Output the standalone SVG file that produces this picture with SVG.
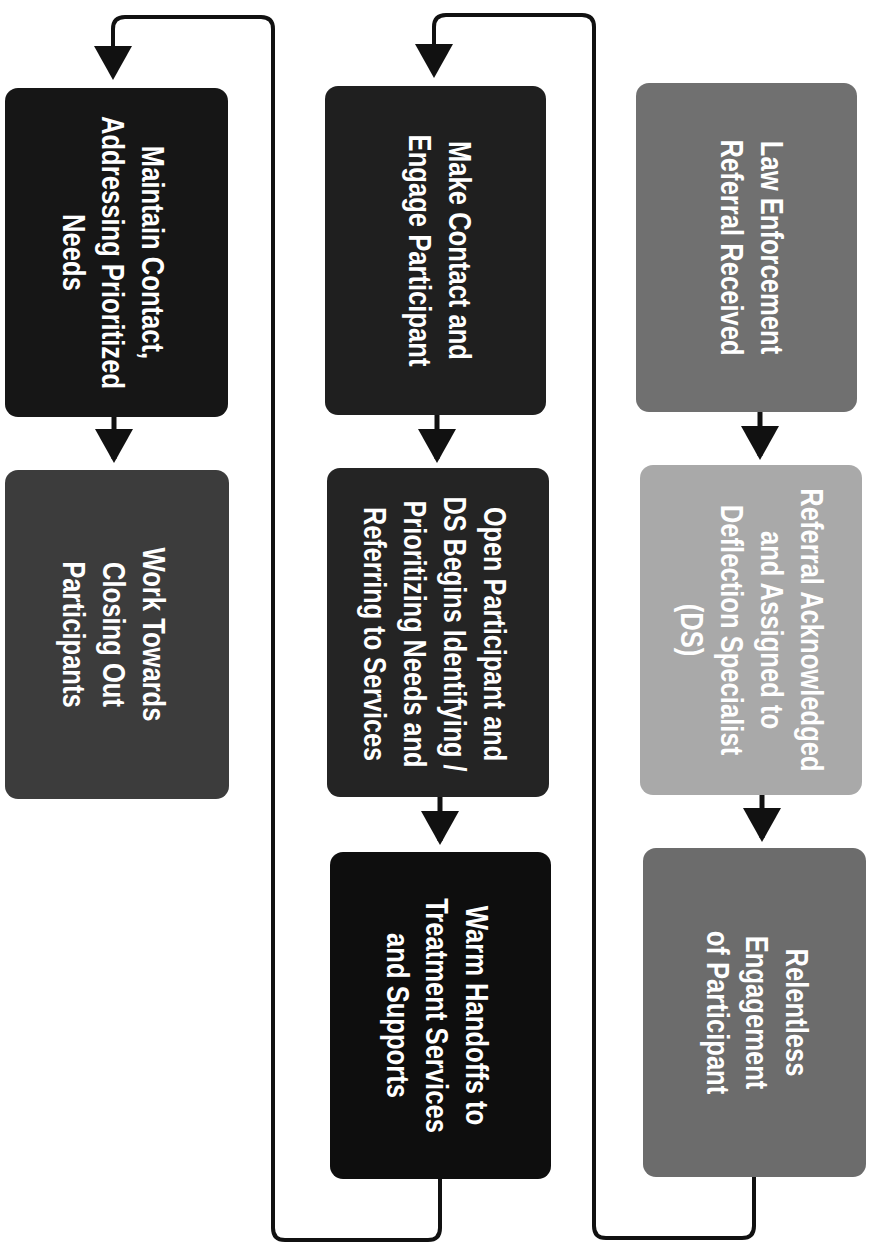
<svg xmlns="http://www.w3.org/2000/svg" width="874" height="1247" viewBox="0 0 874 1247">
<style>
.box{stroke:none}
.t{font-family:"Liberation Sans",Arial,sans-serif;font-weight:bold;font-size:32px;fill:#fff;text-anchor:middle}
.c{fill:none;stroke:#111;stroke-width:4;marker-end:url(#ah)}
.s{fill:none;stroke:#111;stroke-width:5;marker-end:url(#ah)}
</style>
<defs>
<marker id="ah" viewBox="0 0 34 38" refX="30" refY="19" markerWidth="34" markerHeight="38" markerUnits="userSpaceOnUse" orient="auto"><path d="M0,0 L34,19 L0,38 z" fill="#111"/></marker>
</defs>
<rect width="874" height="1247" fill="#fff"/>
<g id="connectors">
<path class="s" d="M114,417 L114,459"/>
<path class="s" d="M437,415 L437,459"/>
<path class="s" d="M440,797 L440,841"/>
<path class="s" d="M760,412 L760,456"/>
<path class="s" d="M762,795 L762,838"/>
<path class="c" d="M440,1179 L440,1228 Q440,1240 428,1240 L285,1240 Q273,1240 273,1228 L273,29 Q273,17 261,17 L125,17 Q113,17 113,29 L113,76"/>
<path class="c" d="M754,1177 L754,1226 Q754,1238 742,1238 L606,1238 Q594,1238 594,1226 L594,27 Q594,15 582,15 L446,15 Q434,15 434,27 L434,74"/>
</g>
<g id="maintain">
<rect class="box" x="5" y="88" width="223" height="329" rx="13" fill="#161616"/>
<g transform="translate(116.5,252.5) rotate(90) scale(0.8,1)"><text class="t"><tspan x="0" y="-26">Maintain Contact,</tspan><tspan x="0" y="14">Addressing Prioritized</tspan><tspan x="0" y="54">Needs</tspan></text></g>
</g>
<g id="work">
<rect class="box" x="5" y="470" width="224" height="329" rx="13" fill="#3c3c3c"/>
<g transform="translate(117,634.5) rotate(90) scale(0.8,1)"><text class="t"><tspan x="0" y="-26">Work Towards</tspan><tspan x="0" y="14">Closing Out</tspan><tspan x="0" y="54">Participants</tspan></text></g>
</g>
<g id="make">
<rect class="box" x="325" y="86" width="221" height="329" rx="13" fill="#1f1f1f"/>
<g transform="translate(435.5,250.5) rotate(90) scale(0.8,1)"><text class="t"><tspan x="0" y="-14">Make Contact and</tspan><tspan x="0" y="26">Engage Participant</tspan></text></g>
</g>
<g id="open">
<rect class="box" x="327" y="468" width="222" height="329" rx="13" fill="#242424"/>
<g transform="translate(438,634) rotate(90) scale(0.79,1)"><text class="t"><tspan x="0" y="-46">Open Participant and</tspan><tspan x="0" y="-6">DS Begins Identifying /</tspan><tspan x="0" y="34">Prioritizing Needs and</tspan><tspan x="0" y="74">Referring to Services</tspan></text></g>
</g>
<g id="warm">
<rect class="box" x="330" y="852" width="221" height="327" rx="13" fill="#0e0e0e"/>
<g transform="translate(440.5,1015.5) rotate(90) scale(0.8,1)"><text class="t"><tspan x="0" y="-26">Warm Handoffs to</tspan><tspan x="0" y="14">Treatment Services</tspan><tspan x="0" y="54">and Supports</tspan></text></g>
</g>
<g id="law">
<rect class="box" x="636" y="83" width="221" height="329" rx="13" fill="#707070"/>
<g transform="translate(746.5,247.5) rotate(90) scale(0.8,1)"><text class="t"><tspan x="0" y="-15">Law Enforcement</tspan><tspan x="0" y="25">Referral Received</tspan></text></g>
</g>
<g id="referral">
<rect class="box" x="640" y="465" width="222" height="330" rx="13" fill="#a9a9a9"/>
<g transform="translate(751,630) rotate(90) scale(0.8,1)"><text class="t"><tspan x="0" y="-50">Referral Acknowledged</tspan><tspan x="0" y="-10">and Assigned to</tspan><tspan x="0" y="30">Deflection Specialist</tspan><tspan x="0" y="70">(DS)</tspan></text></g>
</g>
<g id="relentless">
<rect class="box" x="643" y="848" width="223" height="329" rx="13" fill="#6c6c6c"/>
<g transform="translate(754.5,1012.5) rotate(90) scale(0.8,1)"><text class="t"><tspan x="0" y="-32">Relentless</tspan><tspan x="0" y="8">Engagement</tspan><tspan x="0" y="48">of Participant</tspan></text></g>
</g>
</svg>
